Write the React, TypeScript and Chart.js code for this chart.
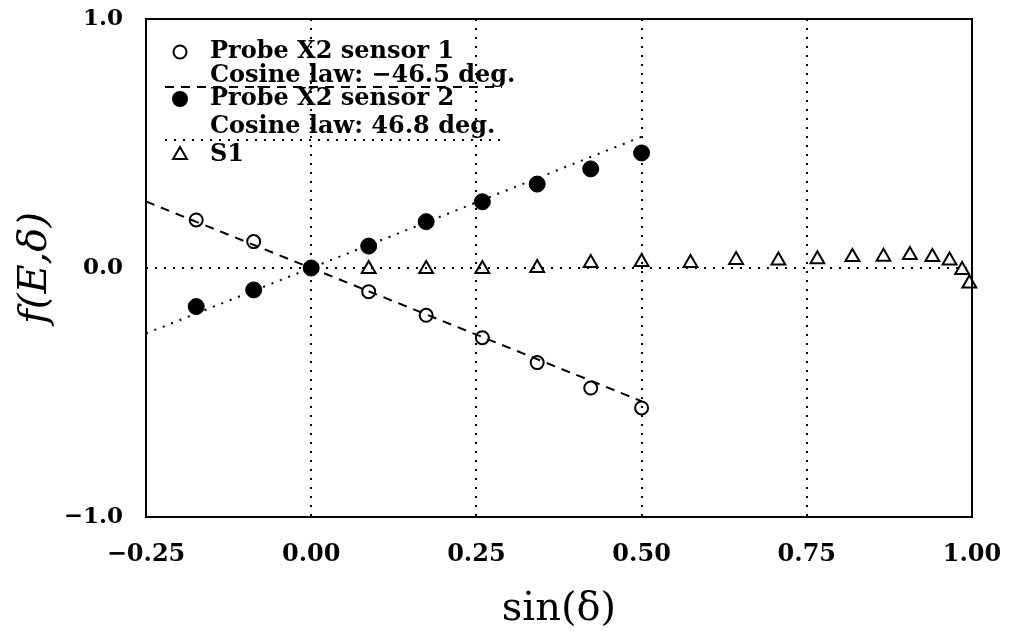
import React, { useEffect, useRef } from "react";
import { Chart, registerables } from "chart.js";

Chart.register(...registerables);

// ---- data ----
const sinDelta = [-0.174, -0.087, 0, 0.087, 0.174, 0.259, 0.342, 0.423, 0.5];
const sensor1 = [0.193, 0.106, 0, -0.095, -0.19, -0.28, -0.38, -0.482, -0.562];
const sensor2 = [-0.155, -0.088, 0, 0.088, 0.186, 0.266, 0.337, 0.398, 0.462];

const fit1X = [-0.25, 0.5];
const fit1Y = [0.267, -0.535];
const fit2X = [-0.25, 0.5];
const fit2Y = [-0.263, 0.527];

const s1X = [0.087, 0.174, 0.259, 0.342, 0.423, 0.5, 0.574, 0.643, 0.707, 0.766, 0.819, 0.866, 0.906, 0.94, 0.966, 0.985, 0.996];
const s1Y = [-0.004, -0.004, -0.004, 0.0, 0.02, 0.024, 0.02, 0.032, 0.03, 0.035, 0.044, 0.045, 0.052, 0.044, 0.03, -0.008, -0.062];

const xTicks = [-0.25, 0, 0.25, 0.5, 0.75, 1.0];
const yTicks = [-1, 0, 1];

const legendLabels = [
  "Probe X2 sensor 1",
  "Cosine law: \u221246.5 deg.",
  "Probe X2 sensor 2",
  "Cosine law: 46.8 deg.",
  "S1",
];

const zip = (xs: number[], ys: number[]) => xs.map((x, i) => ({ x, y: ys[i] }));
const fmt = (v: number, d: number) => (v < 0 ? "\u2212" : "") + Math.abs(v).toFixed(d);

const SERIF = "'DejaVu Serif', 'Liberation Serif', serif";

const framePlugin = {
  id: "frameAndLegend",
  afterDraw(chart: any) {
    const { ctx, chartArea } = chart;
    const { left, top, right, bottom } = chartArea;
    ctx.save();
    ctx.strokeStyle = "#000";
    ctx.lineWidth = 2;
    ctx.setLineDash([]);
    ctx.strokeRect(left, top, right - left, bottom - top);

    // legend
    const mx = left + 34;
    const tx = left + 64;
    const rows = [top + 33, top + 57, top + 80, top + 108, top + 136];
    ctx.fillStyle = "#000";
    ctx.font = "bold 24px " + SERIF;
    ctx.textBaseline = "middle";
    ctx.textAlign = "left";
    legendLabels.forEach((t, i) => ctx.fillText(t, tx, rows[i]));

    ctx.lineWidth = 2;
    // open circle
    ctx.beginPath();
    ctx.arc(mx, rows[0], 6.5, 0, Math.PI * 2);
    ctx.stroke();
    // filled circle
    ctx.beginPath();
    ctx.arc(mx, rows[2], 8, 0, Math.PI * 2);
    ctx.fill();
    // triangle
    const r = 8;
    ctx.beginPath();
    ctx.moveTo(mx, rows[4] - r);
    ctx.lineTo(mx + r * Math.sin((2 * Math.PI) / 3), rows[4] + r / 2);
    ctx.lineTo(mx - r * Math.sin((2 * Math.PI) / 3), rows[4] + r / 2);
    ctx.closePath();
    ctx.stroke();

    // line samples
    ctx.setLineDash([9, 7]);
    ctx.beginPath();
    ctx.moveTo(left + 19, top + 68);
    ctx.lineTo(left + 356, top + 68);
    ctx.stroke();
    ctx.setLineDash([2, 7]);
    ctx.beginPath();
    ctx.moveTo(left + 19, top + 121);
    ctx.lineTo(left + 356, top + 121);
    ctx.stroke();
    ctx.restore();
  },
};

export default function App() {
  const ref = useRef<HTMLCanvasElement | null>(null);
  useEffect(() => {
    if (!ref.current) return;
    const chart = new Chart(ref.current, {
      type: "scatter",
      data: {
        datasets: [
          {
            label: legendLabels[1],
            type: "line",
            data: zip(fit1X, fit1Y),
            borderColor: "#000",
            borderWidth: 2,
            borderDash: [9, 7],
            pointRadius: 0,
            fill: false,
          } as any,
          {
            label: legendLabels[3],
            type: "line",
            data: zip(fit2X, fit2Y),
            borderColor: "#000",
            borderWidth: 2,
            borderDash: [2, 7],
            pointRadius: 0,
            fill: false,
          } as any,
          {
            label: legendLabels[0],
            data: zip(sinDelta, sensor1),
            pointStyle: "circle",
            pointRadius: 6.5,
            borderColor: "#000",
            backgroundColor: "rgba(0,0,0,0)",
            borderWidth: 2,
            clip: false,
          } as any,
          {
            label: legendLabels[2],
            data: zip(sinDelta, sensor2),
            pointStyle: "circle",
            pointRadius: 8,
            borderColor: "#000",
            backgroundColor: "#000",
            borderWidth: 1,
            clip: false,
          } as any,
          {
            label: legendLabels[4],
            data: zip(s1X, s1Y),
            pointStyle: "triangle",
            pointRadius: 8,
            borderColor: "#000",
            backgroundColor: "rgba(0,0,0,0)",
            borderWidth: 2,
            clip: false,
          } as any,
        ],
      },
      options: {
        animation: false,
        responsive: false,
        layout: { padding: { top: 19, right: 43, left: 0, bottom: 0 } },
        plugins: { legend: { display: false }, tooltip: { enabled: false } },
        scales: {
          x: {
            type: "linear",
            min: -0.25,
            max: 1.0,
            afterFit: (s: any) => {
              s.height = 118;
              s.paddingLeft = 0;
              s.paddingRight = 0;
            },
            afterBuildTicks: (s: any) => {
              s.ticks = xTicks.map((v) => ({ value: v }));
            },
            ticks: {
              padding: 23,
              color: "#000",
              font: { family: SERIF, size: 24, weight: "bold" },
              callback: (v: any) => fmt(Number(v), 2),
              maxRotation: 0,
            },
            grid: {
              drawTicks: false,
              lineWidth: 2,
              color: (c: any) =>
                c.tick && c.tick.value > -0.25 && c.tick.value < 1.0 ? "#000" : "rgba(0,0,0,0)",
            },
            border: { display: false, dash: [2, 7] },
            title: {
              display: true,
              text: "sin(\u03b4)",
              color: "#000",
              font: { family: SERIF, size: 40, weight: "normal" },
              padding: { top: 0, bottom: 1 },
            },
          } as any,
          y: {
            type: "linear",
            min: -1,
            max: 1,
            afterFit: (s: any) => {
              s.width = 146;
              s.paddingTop = 0;
              s.paddingBottom = 0;
            },
            afterBuildTicks: (s: any) => {
              s.ticks = yTicks.map((v) => ({ value: v }));
            },
            ticks: {
              padding: 23,
              color: "#000",
              font: { family: SERIF, size: 23, weight: "bold" },
              callback: (v: any) => fmt(Number(v), 1),
            },
            grid: {
              drawTicks: false,
              lineWidth: 2,
              color: (c: any) => (c.tick && c.tick.value === 0 ? "#000" : "rgba(0,0,0,0)"),
            },
            border: { display: false, dash: [2, 7] },
            title: {
              display: true,
              text: "f(E,\u03b4)",
              color: "#000",
              font: { family: SERIF, size: 40, style: "italic", weight: "normal" },
              padding: { top: 12, bottom: 0 },
            },
          } as any,
        },
      } as any,
      plugins: [framePlugin],
    });
    return () => chart.destroy();
  }, []);
  return (
    <canvas
      ref={ref}
      width={1015}
      height={635}
      style={{ position: "absolute", left: 0, top: 0, display: "block", background: "#fff" }}
    />
  );
}
